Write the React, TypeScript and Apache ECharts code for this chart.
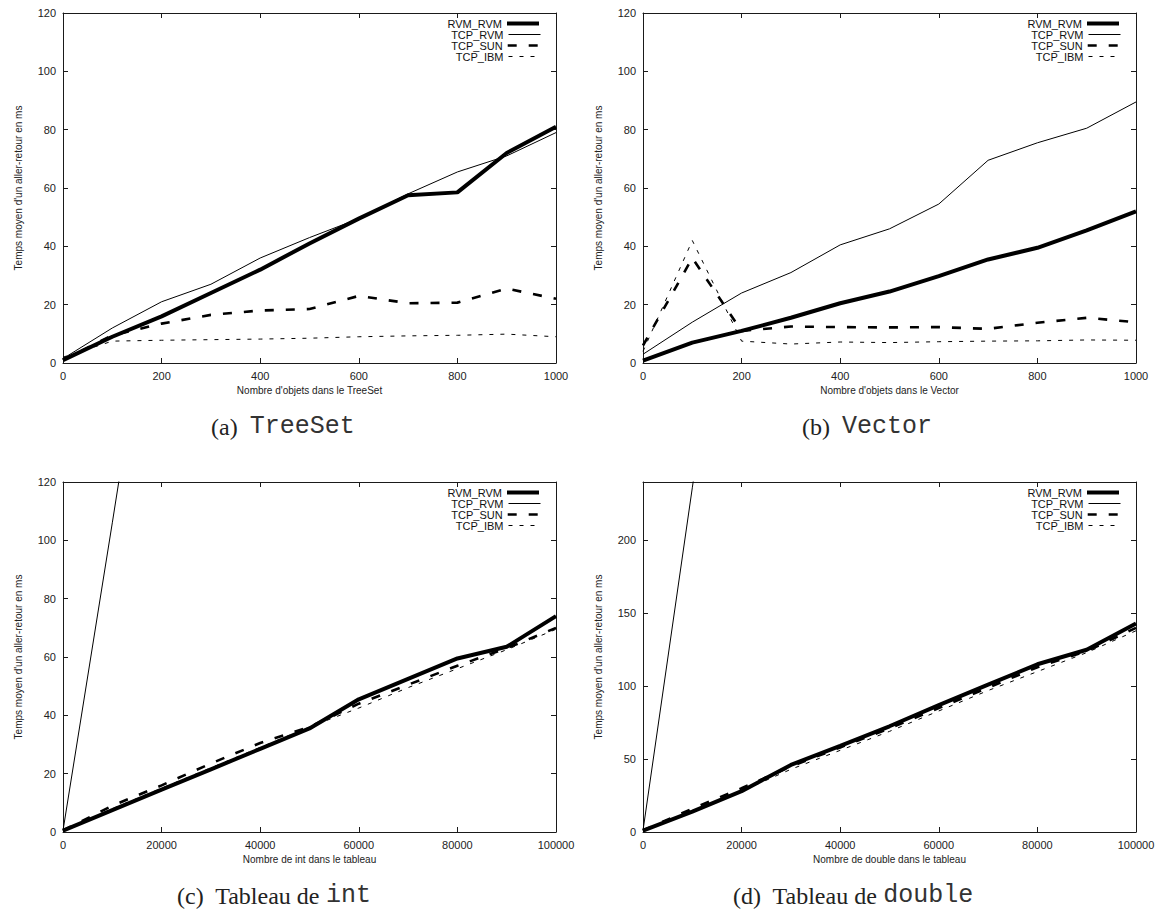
import React, { useEffect, useRef } from "react";
import * as echarts from "echarts";

// ---- data ----
const seriesNames = ["RVM_RVM", "TCP_RVM", "TCP_SUN", "TCP_IBM"];

const xObjects = [0, 100, 200, 300, 400, 500, 600, 700, 800, 900, 1000];
const treeSetRvmRvm = [1, 9, 16, 24, 32, 41, 49.5, 57.5, 58.5, 72, 81];
const treeSetTcpRvm = [1.5, 12, 21, 27, 36, 43, 49.5, 58, 65.5, 71, 79];
const treeSetTcpSun = [1, 9.5, 13.5, 16.5, 18, 18.5, 23, 20.5, 20.7, 25.5, 22];
const treeSetTcpIbm = [2, 7.5, 7.8, 8, 8.2, 8.5, 9, 9.3, 9.5, 9.9, 9];

const vectorRvmRvm = [0.8, 7, 11, 15.5, 20.5, 24.5, 29.8, 35.5, 39.5, 45.5, 52];
const vectorTcpRvm = [3, 14, 24, 31, 40.5, 46, 54.5, 69.5, 75.5, 80.5, 89.5];
const vectorTcpSun = [6, 36, 11, 12.5, 12.3, 12.2, 12.3, 11.7, 13.8, 15.5, 14];
const vectorTcpIbm = [4, 42, 7.5, 6.5, 7.2, 7, 7.3, 7.5, 7.6, 7.9, 7.8];

const xTableau = [0, 10000, 20000, 30000, 40000, 50000, 60000, 70000, 80000, 90000, 100000];
const intRvmRvm = [0.5, 7.5, 14.5, 21.5, 28.5, 35.5, 45.5, 52.5, 59.5, 63.5, 74];
const intTcpRvm = [0.5, 106, 213, null, null, null, null, null, null, null, null];
const intTcpSun = [0.5, 9, 16, 23.5, 30.5, 36, 44, 50.5, 57, 63, 70];
const intTcpIbm = [0.5, 8, 15, 22, 29, 36, 42.5, 49.5, 56, 62.5, 69.5];

const doubleRvmRvm = [1, 14, 28, 46, 59, 72.5, 87, 101, 115, 125, 143];
const doubleTcpRvm = [1, 236, 470, null, null, null, null, null, null, null, null];
const doubleTcpSun = [1, 16, 30, 45, 58, 71, 85, 99, 113, 124, 140];
const doubleTcpIbm = [1, 14.5, 28, 43, 56, 69, 83, 97, 110, 123, 138];

const yTitle = "Temps moyen d'un aller-retour en ms";

const panels = [
  {
    x: xObjects, ys: [treeSetRvmRvm, treeSetTcpRvm, treeSetTcpSun, treeSetTcpIbm],
    xMax: 1000, xInt: 200, yMax: 120, yInt: 20,
    xTitle: "Nombre d'objets dans le TreeSet",
    capLabel: "(a)", capCode: "TreeSet", capPre: "",
  },
  {
    x: xObjects, ys: [vectorRvmRvm, vectorTcpRvm, vectorTcpSun, vectorTcpIbm],
    xMax: 1000, xInt: 200, yMax: 120, yInt: 20,
    xTitle: "Nombre d'objets dans le Vector",
    capLabel: "(b)", capCode: "Vector", capPre: "",
  },
  {
    x: xTableau, ys: [intRvmRvm, intTcpRvm, intTcpSun, intTcpIbm],
    xMax: 100000, xInt: 20000, yMax: 120, yInt: 20,
    xTitle: "Nombre de int dans le tableau",
    capLabel: "(c)", capCode: "int", capPre: "Tableau de ",
  },
  {
    x: xTableau, ys: [doubleRvmRvm, doubleTcpRvm, doubleTcpSun, doubleTcpIbm],
    xMax: 100000, xInt: 20000, yMax: 240, yInt: 50,
    xTitle: "Nombre de double dans le tableau",
    capLabel: "(d)", capCode: "double", capPre: "Tableau de ",
  },
];

// ---- layout / styles ----
const W = 1162;
const H = 909;
const gridPos = [
  { left: 63, top: 13 },
  { left: 643, top: 13 },
  { left: 63, top: 482 },
  { left: 643, top: 482 },
];
const GW = 493;
const GH = 350;
const captionPos = [
  { x: 211, y: 428 },
  { x: 802, y: 428 },
  { x: 177, y: 897 },
  { x: 733, y: 897 },
];

const lineStyles = [
  { width: 4, type: "solid" },
  { width: 1, type: "solid" },
  { width: 2.6, type: [9, 12] },
  { width: 1, type: [4, 7] },
];

const SANS = "Liberation Sans, Arial, Helvetica, sans-serif";
const AXIS_COLOR = "#1a1a1a";

export default function App() {
  const ref = useRef<HTMLDivElement>(null);

  useEffect(() => {
    if (!ref.current) return;
    const chart = echarts.init(ref.current, null, { renderer: "svg" });

    const grid: any[] = [];
    const xAxis: any[] = [];
    const yAxis: any[] = [];
    const series: any[] = [];
    const legend: any[] = [];
    const graphic: any[] = [];

    panels.forEach((p, i) => {
      const g = gridPos[i];
      grid.push({ left: g.left, top: g.top, width: GW, height: GH, containLabel: false });

      const common = {
        gridIndex: i,
        type: "value",
        axisLine: { show: true, onZero: false, lineStyle: { color: AXIS_COLOR, width: 1 } },
        axisTick: { show: true, inside: true, length: 5, lineStyle: { color: AXIS_COLOR } },
        splitLine: { show: false },
      };
      const labelStyle = {
        fontFamily: SANS,
        fontSize: 11,
        color: "#222",
        formatter: (v: number) => String(v),
      };

      xAxis.push({
        ...common,
        position: "bottom",
        min: 0,
        max: p.xMax,
        interval: p.xInt,
        axisLabel: { ...labelStyle, margin: 7 },
        name: p.xTitle,
        nameLocation: "middle",
        nameGap: 22,
        nameTextStyle: { fontFamily: SANS, fontSize: 10, color: "#222" },
      });
      xAxis.push({
        ...common,
        position: "top",
        min: 0,
        max: p.xMax,
        interval: p.xInt,
        axisLabel: { show: false },
      });
      yAxis.push({
        ...common,
        position: "left",
        min: 0,
        max: p.yMax,
        interval: p.yInt,
        axisLabel: {
          ...labelStyle,
          margin: 7,
          showMaxLabel: p.yMax % p.yInt === 0,
        },
        name: yTitle,
        nameLocation: "middle",
        nameGap: 40,
        nameTextStyle: { fontFamily: SANS, fontSize: 10, color: "#222" },
      });
      yAxis.push({
        ...common,
        position: "right",
        min: 0,
        max: p.yMax,
        interval: p.yInt,
        axisLabel: { show: false },
      });

      seriesNames.forEach((name, k) => {
        series.push({
          type: "line",
          name,
          xAxisIndex: 2 * i,
          yAxisIndex: 2 * i,
          data: p.x.map((xv, j) => [xv, p.ys[k][j]]),
          symbol: "none",
          connectNulls: false,
          clip: true,
          lineStyle: { color: "#000", width: lineStyles[k].width, type: lineStyles[k].type },
          itemStyle: { color: "#000" },
          emphasis: { disabled: true },
        });
        legend.push({
          data: [name],
          orient: "vertical",
          right: W - (g.left + GW - 15),
          top: g.top + 5 + k * 11,
          align: "right",
          padding: 0,
          itemWidth: 32,
          itemHeight: 10,
          selectedMode: false,
          textStyle: { fontFamily: SANS, fontSize: 11, color: "#111" },
          itemStyle: { opacity: 0, borderWidth: 0 },
          lineStyle: {
            width: lineStyles[k].width,
            type: lineStyles[k].type,
            color: "#000",
            opacity: 1,
          },
        });
      });

      const c = captionPos[i];
      graphic.push({
        type: "text",
        left: c.x,
        top: c.y - 14,
        style: {
          text: `{s|${p.capLabel}  ${p.capPre}}{m|${p.capCode}}`,
          rich: {
            s: { fontFamily: "Liberation Serif, Times New Roman, serif", fontSize: 24, fill: "#222" },
            m: { fontFamily: "Liberation Mono, Courier New, monospace", fontSize: 25, fill: "#333" },
          },
        },
      });
    });

    chart.setOption({
      animation: false,
      backgroundColor: "#fff",
      grid,
      xAxis,
      yAxis,
      series,
      legend,
      graphic,
    });

    return () => chart.dispose();
  }, []);

  return (
    <div
      ref={ref}
      style={{ position: "absolute", left: 0, top: 0, width: W, height: H, background: "#fff" }}
    />
  );
}
